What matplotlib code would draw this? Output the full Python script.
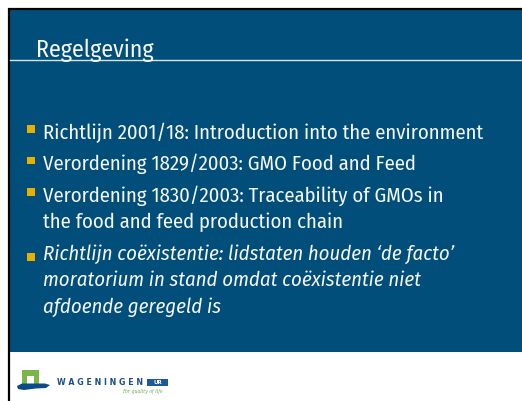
import matplotlib
matplotlib.use("Agg")
import matplotlib.pyplot as plt
from matplotlib.patches import Rectangle, Polygon

W, H = 522, 401
BLUE = "#014e7a"
YELLOW = "#e8b000"
TEXT = "#f4f6f8"
FONT = ["Fira Sans Condensed", "DejaVu Sans"]

title = "Regelgeving"
bullet_lines = [
    ["Richtlijn 2001/18: Introduction into the environment"],
    ["Verordening 1829/2003: GMO Food and Feed"],
    ["Verordening 1830/2003: Traceability of GMOs in", "the food and feed production chain"],
    ["Richtlijn coëxistentie: lidstaten houden \u2018de facto\u2019",
     "moratorium in stand omdat coëxistentie niet", "afdoende geregeld is"],
]
bullet_italic = [False, False, False, True]
logo_name = "WAGENINGEN"
logo_box = "UR"
logo_tag = "For quality of life"

fig = plt.figure(figsize=(W / 100, H / 100), dpi=100)
ax = fig.add_axes([0, 0, 1, 1])
ax.set_xlim(0, W)
ax.set_ylim(H, 0)
ax.axis("off")
renderer = fig.canvas.get_renderer()


def fit(txt, target_w):
    w = txt.get_window_extent(renderer).width
    txt.set_fontsize(txt.get_fontsize() * target_w / w)


# slide background
ax.add_patch(Rectangle((10, 10), W - 10, 342, color=BLUE, lw=0))
ax.plot([8, W], [9, 9], color="black", lw=1.6, solid_capstyle="butt")
ax.plot([9, 9], [8, H], color="black", lw=1.6, solid_capstyle="butt")

# title + rule
t = ax.text(36, 57.5, title, fontsize=14, color=TEXT, family=FONT, weight="normal",
            va="baseline", ha="left")
fit(t, 118)
ax.plot([10, W], [59.5, 59.5], color="#d6e4ee", lw=1.0)

# bullets
probe = ax.text(43, 0, bullet_lines[0][0], fontsize=14, family=FONT, weight="normal")
fit(probe, 442)
fs = probe.get_fontsize()
probe.remove()

y = 138.5
for lines, ital in zip(bullet_lines, bullet_italic):
    if ital:
        ax.add_patch(Rectangle((27, 253), 7.5, 7.5, color=YELLOW, lw=0))
    else:
        ax.add_patch(Rectangle((27, y - 13.5), 7.5, 7.5, color=YELLOW, lw=0))
    for ln in lines:
        ax.text(43, y, ln, fontsize=fs, color=TEXT, family=FONT, weight="normal",
                style="italic" if ital else "normal", va="baseline", ha="left")
        y += 26.5
    y += 5

# logo
ax.add_patch(Polygon([(22, 384), (22, 370), (39, 370), (39, 384), (34, 384), (34, 376),
                      (27, 376), (27, 384)], closed=True, color="#7ab648", lw=0))
ax.add_patch(Polygon([(17, 386), (22, 383.5), (45, 383.5), (50, 385), (46, 388), (36, 388.5),
                      (24, 390), (18, 389)], closed=True, color="#0a4d86", lw=0))
n = ax.text(57, 385, " ".join(logo_name), fontsize=4.2, color="#1a4f85",
            family=["DejaVu Sans"], weight="bold", va="baseline", ha="left")
fit(n, 86)
ax.add_patch(Rectangle((147, 379), 21, 7, color="#1d5a9a", lw=0))
ax.text(157.5, 382.6, logo_box, fontsize=4.0, color="white", family=["DejaVu Sans"],
        weight="bold", va="center", ha="center")
tg = ax.text(122, 391.5, logo_tag, fontsize=3.3, color="#6aa84f", family=["DejaVu Serif"],
             style="italic", va="center", ha="left")
fit(tg, 41)

fig.savefig("out.png", dpi=100)
